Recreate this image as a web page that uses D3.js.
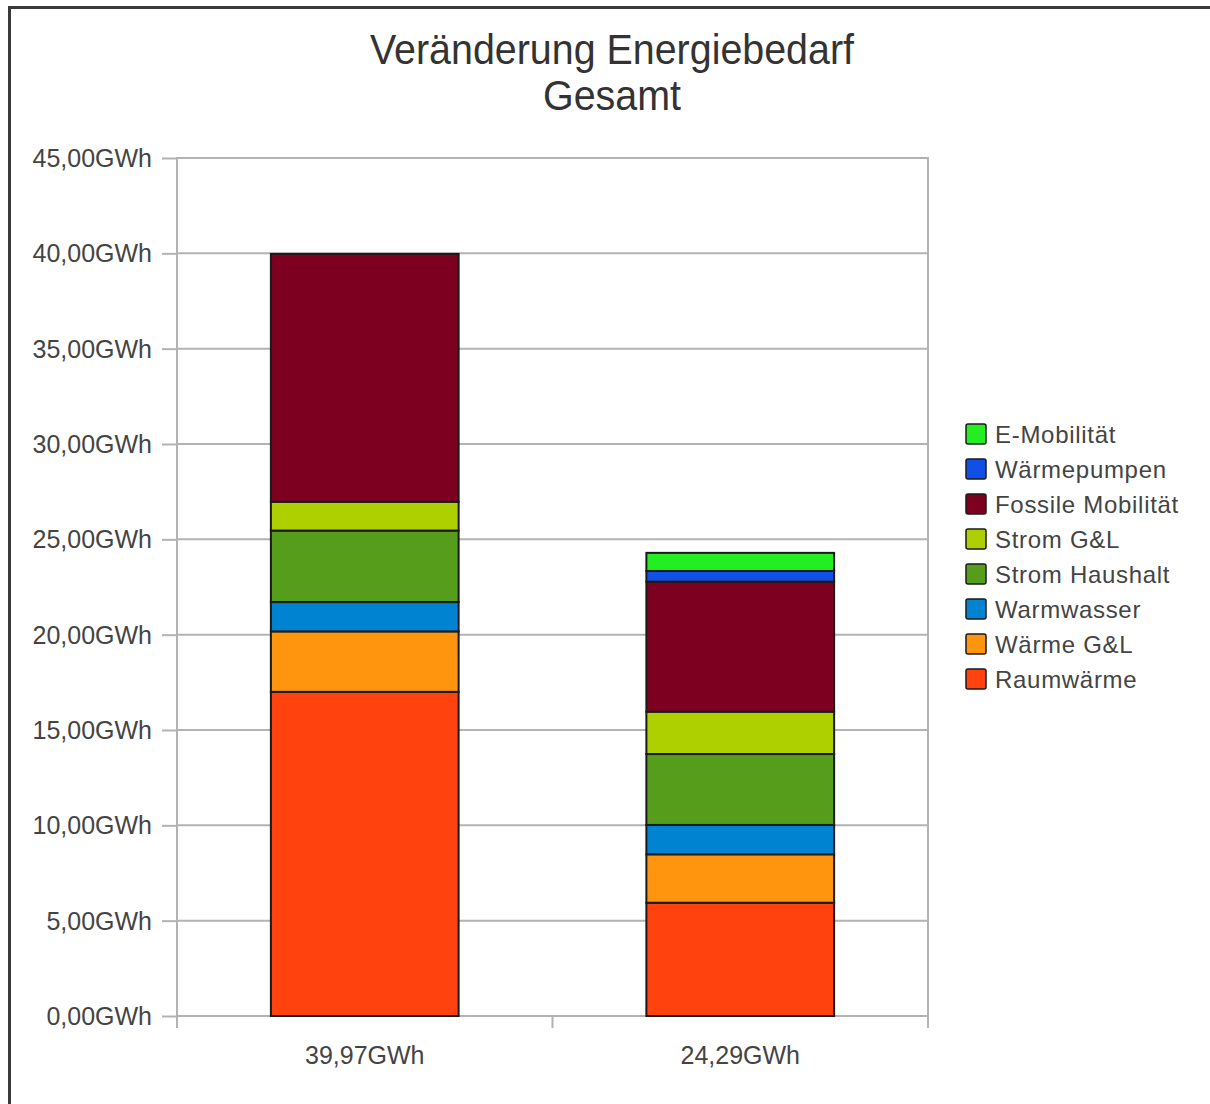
<!DOCTYPE html>
<html>
<head>
<meta charset="utf-8">
<script src="https://cdn.jsdelivr.net/npm/d3@7"></script>
<style>
  html, body { margin: 0; padding: 0; background: #fff; }
  svg { display: block; font-family: "Liberation Sans", Arial, sans-serif; }
</style>
</head>
<body>
<svg id="chart" width="1210" height="1104"></svg>
<script>
// ---- data ----
const titleLines = ["Veränderung Energiebedarf", "Gesamt"];
const categories = ["39,97GWh", "24,29GWh"];
const seriesNames = ["Raumwärme", "Wärme G&L", "Warmwasser", "Strom Haushalt", "Strom G&L", "Fossile Mobilität", "Wärmepumpen", "E-Mobilität"];
const raumwaerme    = [17.00, 5.94];
const waermeGL      = [3.17, 2.54];
const warmwasser    = [1.54, 1.54];
const stromHaushalt = [3.75, 3.72];
const stromGL       = [1.51, 2.22];
const fossileMob    = [13.00, 6.82];
const waermepumpen  = [0.00, 0.56];
const eMobilitaet   = [0.00, 0.95];
const seriesColors = ["#ff420e", "#ff950e", "#0084d1", "#579d1c", "#aecf00", "#7e0021", "#1050e6", "#22ee22"];
const yTicks = [0, 5, 10, 15, 20, 25, 30, 35, 40, 45];

const seriesValues = [raumwaerme, waermeGL, warmwasser, stromHaushalt, stromGL, fossileMob, waermepumpen, eMobilitaet];
const table = categories.map((c, i) => {
  const row = { cat: c };
  seriesNames.forEach((s, j) => row[s] = seriesValues[j][i]);
  return row;
});

// ---- layout ----
const svg = d3.select("#chart");
const plot = { left: 177, right: 928, top: 158, bottom: 1016 };
const y = d3.scaleLinear().domain([0, 45]).range([plot.bottom, plot.top]);
const x = d3.scaleBand().domain(categories).range([plot.left, plot.right]).padding(0);
const color = d3.scaleOrdinal().domain(seriesNames).range(seriesColors);
const locale = d3.formatLocale({ decimal: ",", thousands: ".", grouping: [3], currency: ["", "€"] });
const fmt = v => locale.format(".2f")(v) + "GWh";

// frame
svg.append("rect").attr("x", 0).attr("y", 0).attr("width", 1210).attr("height", 1104).attr("fill", "#fff");
svg.append("line").attr("x1", 8).attr("x2", 1210).attr("y1", 7.5).attr("y2", 7.5).attr("stroke", "#3a3a3a").attr("stroke-width", 3);
svg.append("line").attr("x1", 9.5).attr("x2", 9.5).attr("y1", 6).attr("y2", 1104).attr("stroke", "#3a3a3a").attr("stroke-width", 3);

// title
svg.append("g").selectAll("text").data(titleLines).join("text")
  .attr("x", 612).attr("y", (d, i) => 64 + i * 46)
  .attr("text-anchor", "middle")
  .attr("font-size", 42)
  .attr("fill", "#333")
  .attr("textLength", (d, i) => i === 0 ? 484 : 138)
  .attr("lengthAdjust", "spacingAndGlyphs")
  .text(d => d);

// gridlines
svg.append("g").selectAll("line").data(yTicks).join("line")
  .attr("x1", plot.left).attr("x2", plot.right)
  .attr("y1", d => y(d)).attr("y2", d => y(d))
  .attr("stroke", "#b3b3b3").attr("stroke-width", 2);

// y axis
const yAxis = svg.append("g").attr("transform", `translate(${plot.left},0)`)
  .call(d3.axisLeft(y).tickValues(yTicks).tickFormat(fmt).tickSize(15).tickPadding(10));
yAxis.select(".domain").remove();
yAxis.selectAll(".tick line").attr("stroke", "#b3b3b3").attr("stroke-width", 2);
yAxis.selectAll(".tick text").attr("font-size", 25).attr("fill", "#444")
  .attr("font-family", "'Liberation Sans', Arial, sans-serif").attr("dy", "0.34em");

// vertical axis lines & x ticks
const xEdges = [plot.left, ...categories.map(c => x(c) + x.bandwidth())];
svg.append("g").selectAll("line").data(xEdges).join("line")
  .attr("x1", d => d).attr("x2", d => d)
  .attr("y1", (d, i) => (i === 1 ? plot.bottom : plot.top - 1))
  .attr("y2", plot.bottom + 12)
  .attr("stroke", "#b3b3b3").attr("stroke-width", 2);

// x labels
const xAxis = svg.append("g").attr("transform", `translate(0,${plot.bottom})`)
  .call(d3.axisBottom(x).tickSize(0).tickPadding(30));
xAxis.select(".domain").remove();
xAxis.selectAll(".tick text").attr("font-size", 25).attr("fill", "#444")
  .attr("font-family", "'Liberation Sans', Arial, sans-serif");

// stacked bars
const stack = d3.stack().keys(seriesNames)(table);
const barW = x.bandwidth() * 0.5;
svg.append("g").selectAll("g").data(stack).join("g")
  .attr("fill", d => color(d.key))
  .selectAll("rect").data(d => d.filter(p => p[1] - p[0] > 0)).join("rect")
  .attr("x", d => x(d.data.cat) + (x.bandwidth() - barW) / 2)
  .attr("width", barW)
  .attr("y", d => y(d[1]))
  .attr("height", d => y(d[0]) - y(d[1]))
  .attr("stroke", "#1a1a1a").attr("stroke-width", 2);

// legend
const legendOrder = seriesNames.slice().reverse();
const lg = svg.append("g").attr("transform", "translate(966,424)");
const item = lg.selectAll("g").data(legendOrder).join("g")
  .attr("transform", (d, i) => `translate(0,${i * 35})`);
item.append("rect").attr("x", 0).attr("y", 0).attr("width", 20).attr("height", 20)
  .attr("rx", 2).attr("fill", d => color(d)).attr("stroke", "#1a1a1a").attr("stroke-width", 1.5);
item.append("text").attr("x", 29).attr("y", 10).attr("dy", "0.36em")
  .attr("font-size", 24).attr("fill", "#444").attr("letter-spacing", 0.7)
  .text(d => d);
</script>
</body>
</html>
